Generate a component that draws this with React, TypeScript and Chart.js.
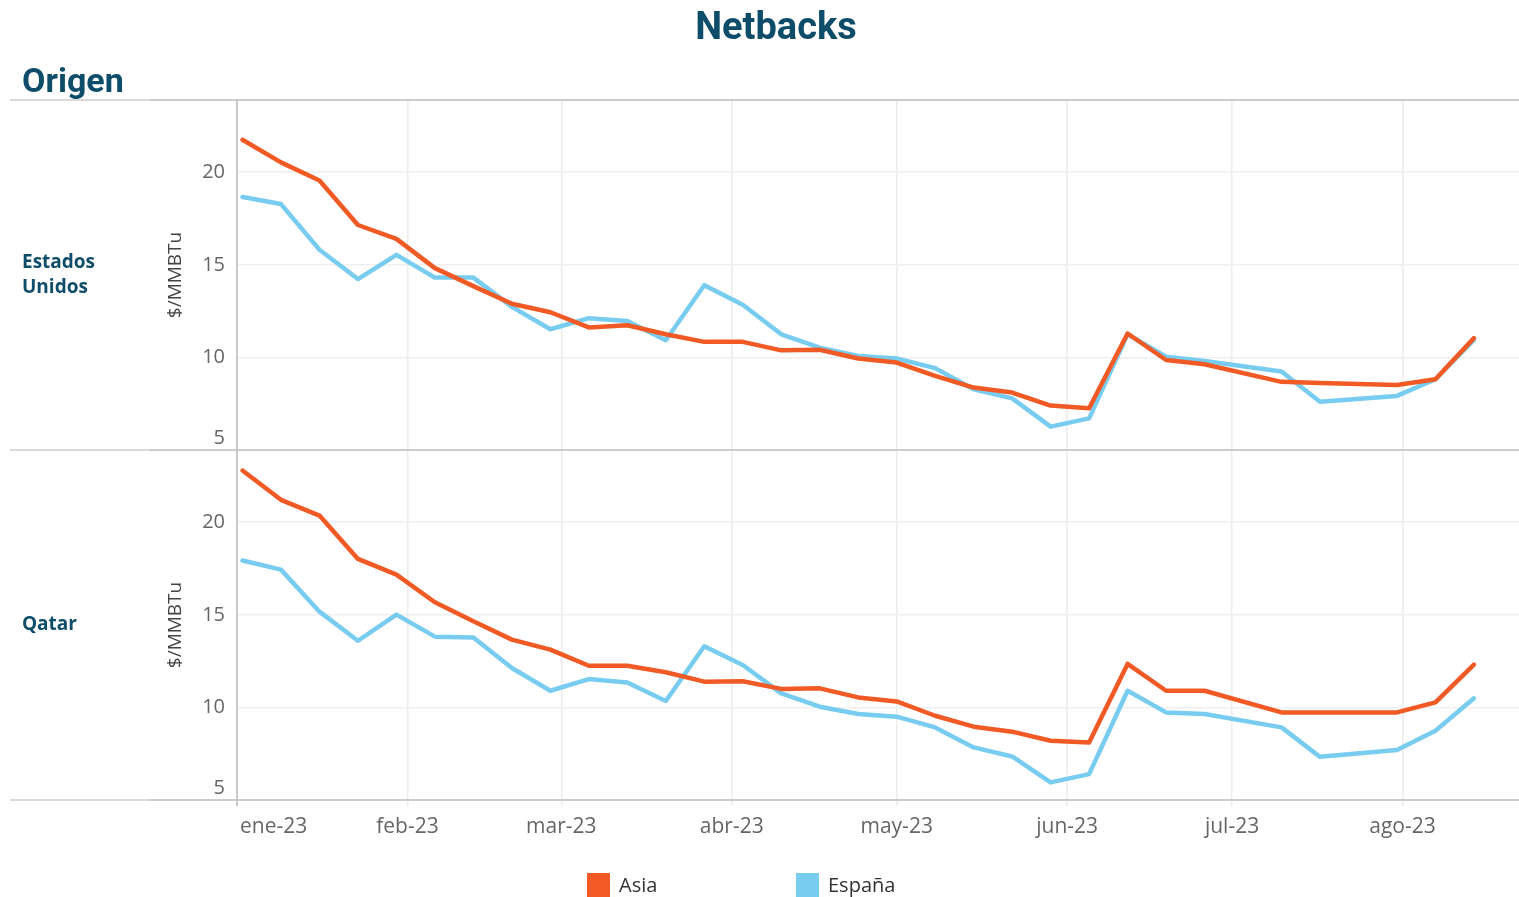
import React, { useEffect, useRef } from "react";
import { Chart, registerables } from "chart.js";

Chart.register(...registerables);

// ---- data ----
const weekDates = [
  "2023-01-02", "2023-01-09", "2023-01-16", "2023-01-23", "2023-01-30",
  "2023-02-06", "2023-02-13", "2023-02-20", "2023-02-27",
  "2023-03-06", "2023-03-13", "2023-03-20", "2023-03-27",
  "2023-04-03", "2023-04-10", "2023-04-17", "2023-04-24",
  "2023-05-01", "2023-05-08", "2023-05-15", "2023-05-22", "2023-05-29",
  "2023-06-05", "2023-06-12", "2023-06-19", "2023-06-26",
  "2023-07-10", "2023-07-17", "2023-07-31", "2023-08-07", "2023-08-14",
];

const usAsia = [21.75, 20.53, 19.55, 17.15, 16.4, 14.82, 13.85, 12.9, 12.44, 11.62, 11.74, 11.25, 10.84, 10.84, 10.38, 10.41, 9.94, 9.72, 9.0, 8.37, 8.1, 7.4, 7.25, 11.29, 9.86, 9.63, 8.68, 8.62, 8.51, 8.82, 11.04];
const usEspana = [18.66, 18.28, 15.81, 14.23, 15.54, 14.31, 14.31, 12.73, 11.52, 12.12, 11.96, 10.93, 13.9, 12.84, 11.25, 10.53, 10.08, 9.94, 9.42, 8.28, 7.79, 6.26, 6.71, 11.25, 10.04, 9.81, 9.24, 7.6, 7.92, 8.82, 10.95];
const qatarAsia = [22.79, 21.21, 20.36, 18.02, 17.17, 15.68, 14.65, 13.66, 13.12, 12.25, 12.25, 11.9, 11.39, 11.41, 11.0, 11.03, 10.54, 10.32, 9.55, 8.96, 8.69, 8.2, 8.11, 12.35, 10.9, 10.9, 9.73, 9.73, 9.73, 10.27, 12.31];
const qatarEspana = [17.93, 17.44, 15.17, 13.6, 15.01, 13.82, 13.78, 12.13, 10.9, 11.53, 11.35, 10.35, 13.3, 12.29, 10.76, 10.04, 9.64, 9.5, 8.92, 7.84, 7.35, 5.95, 6.4, 10.9, 9.73, 9.64, 8.92, 7.33, 7.7, 8.74, 10.49];

const monthStarts = ["2023-01-01", "2023-02-01", "2023-03-01", "2023-04-01", "2023-05-01", "2023-06-01", "2023-07-01", "2023-08-01"];
const monthLabels = ["ene-23", "feb-23", "mar-23", "abr-23", "may-23", "jun-23", "jul-23", "ago-23"];
const yTickValues = [5, 10, 15, 20];
const seriesNames = ["Asia", "España"];
const panelLabels = [["Estados", "Unidos"], ["Qatar"]];
const chartTitle = "Netbacks";
const rowHeader = "Origen";
const yTitle = "$/MMBTu";

// ---- styles ----
const ASIA = "#f15a24";
const ESP = "#78ccf0";
const TEAL = "#0e4d69";
const FONT = '"Open Sans", "DejaVu Sans", sans-serif';
const TITLE_FONT = 'Roboto, "Open Sans", sans-serif';

const dayOf = (s: string) => {
  const [y, m, d] = s.split("-").map(Number);
  return (Date.UTC(y, m - 1, d) - Date.UTC(2023, 0, 1)) / 86400000;
};
const pts = (arr: number[]) => weekDates.map((d, i) => ({ x: dayOf(d), y: arr[i] }));

const overlay = {
  id: "overlay",
  afterDraw(chart: any) {
    const { ctx, chartArea, scales } = chart;
    const xs = scales.x;
    const panels = [scales.yUS, scales.yQA];
    ctx.save();

    // separators
    const seps = [chartArea.top, scales.yUS.bottom, chartArea.bottom];
    ctx.lineWidth = 2;
    for (const y of seps) {
      ctx.strokeStyle = "#dadada";
      ctx.beginPath();
      ctx.moveTo(10, y);
      ctx.lineTo(150, y);
      ctx.stroke();
      ctx.strokeStyle = "#cccccc";
      ctx.beginPath();
      ctx.moveTo(150, y);
      ctx.lineTo(chart.width, y);
      ctx.stroke();
    }
    // y axis line
    ctx.strokeStyle = "#c8c8c8";
    ctx.beginPath();
    ctx.moveTo(chartArea.left, chartArea.top);
    ctx.lineTo(chartArea.left, chartArea.bottom + 6);
    ctx.stroke();

    // y tick labels & titles
    ctx.fillStyle = "#666666";
    ctx.font = `20px ${FONT}`;
    ctx.textAlign = "right";
    ctx.textBaseline = "middle";
    for (const s of panels) {
      for (const v of yTickValues) {
        let py = s.getPixelForValue(v);
        if (py > s.bottom - 12) py = s.bottom - 12;
        ctx.fillText(String(v), chartArea.left - 12, py);
      }
    }
    ctx.fillStyle = "#444444";
    ctx.font = `19px ${FONT}`;
    ctx.textAlign = "center";
    for (const s of panels) {
      ctx.save();
      ctx.translate(176, (s.top + s.bottom) / 2);
      ctx.rotate(-Math.PI / 2);
      ctx.fillText(yTitle, 0, 0);
      ctx.restore();
    }

    // row labels
    ctx.fillStyle = TEAL;
    ctx.font = `bold 19px ${FONT}`;
    ctx.textAlign = "left";
    panels.forEach((s, i) => {
      const lines = panelLabels[i];
      const mid = (s.top + s.bottom) / 2;
      lines.forEach((t, j) => {
        ctx.fillText(t, 22, mid + (j - (lines.length - 1) / 2) * 25);
      });
    });

    // x labels
    ctx.fillStyle = "#666666";
    ctx.font = `21px ${FONT}`;
    ctx.textBaseline = "middle";
    monthStarts.forEach((d, i) => {
      const px = xs.getPixelForValue(dayOf(d));
      if (i === 0) {
        ctx.textAlign = "left";
        ctx.fillText(monthLabels[i], px + 3, 827);
      } else {
        ctx.textAlign = "center";
        ctx.fillText(monthLabels[i], px, 827);
      }
    });

    // title + header
    ctx.fillStyle = TEAL;
    ctx.textBaseline = "alphabetic";
    ctx.textAlign = "center";
    ctx.font = `bold 38px ${TITLE_FONT}`;
    ctx.fillText(chartTitle, 776, 39);
    ctx.textAlign = "left";
    ctx.font = `bold 34px ${TITLE_FONT}`;
    ctx.fillText(rowHeader, 22, 92);

    // legend
    const legendX = [587, 796];
    const colors = [ASIA, ESP];
    ctx.font = `20px ${FONT}`;
    ctx.textBaseline = "middle";
    seriesNames.forEach((n, i) => {
      ctx.fillStyle = colors[i];
      ctx.fillRect(legendX[i], 873, 23, 26);
      ctx.fillStyle = "#333333";
      ctx.fillText(n, legendX[i] + 32, 886);
    });

    ctx.restore();
  },
};

const yScale = (weight: number) => ({
  type: "linear",
  position: "left",
  stack: "panels",
  stackWeight: 1,
  weight,
  min: 5,
  max: 23.9,
  afterFit: (s: any) => {
    s.width = 237;
  },
  afterBuildTicks: (s: any) => {
    s.ticks = yTickValues.map((v) => ({ value: v }));
  },
  ticks: { display: false },
  grid: {
    color: (c: any) => (c.tick && c.tick.value === 5 ? "rgba(0,0,0,0)" : "#efefef"),
    lineWidth: 1.5,
    drawTicks: false,
  },
  border: { display: false },
});

export default function App() {
  const ref = useRef<HTMLCanvasElement | null>(null);
  useEffect(() => {
    if (!ref.current) return;
    const line = (label: string, data: number[], color: string, axis: string) => ({
      label,
      data: pts(data),
      yAxisID: axis,
      borderColor: color,
      backgroundColor: color,
      borderWidth: 4.5,
      pointRadius: 0,
      tension: 0,
      borderCapStyle: "round",
      borderJoinStyle: "round",
      fill: false,
    });
    const chart = new Chart(ref.current, {
      type: "line",
      data: {
        datasets: [
          line(seriesNames[0], usAsia, ASIA, "yUS"),
          line(seriesNames[0], qatarAsia, ASIA, "yQA"),
          line(seriesNames[1], usEspana, ESP, "yUS"),
          line(seriesNames[1], qatarEspana, ESP, "yQA"),
        ],
      } as any,
      options: {
        animation: false,
        responsive: false,
        maintainAspectRatio: false,
        layout: { padding: { top: 100, left: 0, right: 0, bottom: 0 } },
        plugins: { legend: { display: false }, tooltip: { enabled: false }, title: { display: false } },
        scales: {
          x: {
            type: "linear",
            position: "bottom",
            min: 0,
            max: 233.2,
            afterFit: (s: any) => {
              s.height = 97;
            },
            afterBuildTicks: (s: any) => {
              s.ticks = monthStarts.map((d) => ({ value: dayOf(d) }));
            },
            ticks: { display: false },
            grid: { color: "#ececec", lineWidth: 1.5, drawTicks: true, tickLength: 6 },
            border: { display: false },
          },
          yUS: yScale(1),
          yQA: yScale(0),
        },
      } as any,
      plugins: [overlay],
    });
    return () => chart.destroy();
  }, []);
  return (
    <div style={{ position: "absolute", left: 0, top: 0, width: 1519, height: 897, background: "#fff" }}>
      <canvas ref={ref} width={1519} height={897} style={{ width: 1519, height: 897, display: "block" }} />
    </div>
  );
}
